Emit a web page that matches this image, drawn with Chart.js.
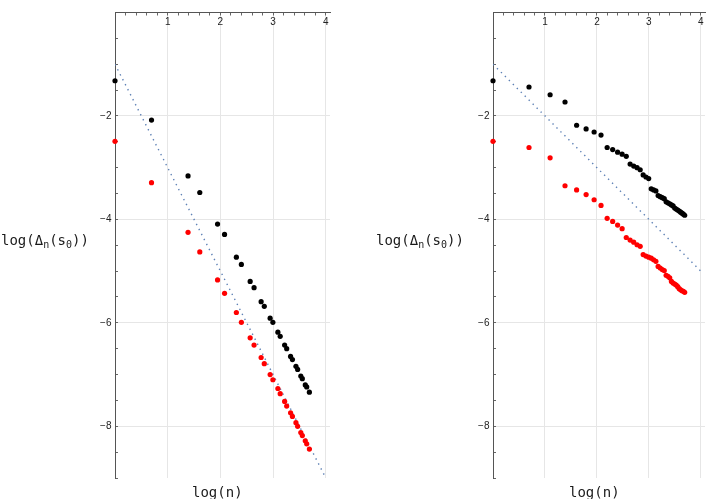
<!DOCTYPE html>
<html>
<head>
<meta charset="utf-8">
<script src="https://cdn.jsdelivr.net/npm/chart.js@4.4.1/dist/chart.umd.min.js"></script>
<style>
  body { margin: 0; background: #fff; }
  #cadre { position: relative; width: 709px; height: 499px; overflow: hidden; }
  canvas { position: absolute; top: 0; }
  .etiquette { position: absolute; font-family: 'DejaVu Sans Mono', monospace; font-size: 14px; line-height: 16px; color: #1a1a1a; white-space: nowrap; }
  .etiquette .ind { font-size: 10px; position: relative; top: 3px; }
</style>
</head>
<body>
<div id="cadre">
  <canvas id="gauche" width="354" height="499" style="left:0"></canvas>
  <canvas id="droite" width="355" height="499" style="left:354px"></canvas>
  <div class="etiquette" style="left:1px;top:232px">log(Δ<span class="ind">n</span>(s<span class="ind">0</span>))</div>
  <div class="etiquette" style="left:376px;top:232px">log(Δ<span class="ind">n</span>(s<span class="ind">0</span>))</div>
  <div class="etiquette" style="left:192px;top:484px">log(n)</div>
  <div class="etiquette" style="left:569px;top:484px">log(n)</div>
</div>
<script>
// abscisses : log(n) pour n = 1..40
const logN = [0, 0.693, 1.099, 1.386, 1.609, 1.792, 1.946, 2.079, 2.197, 2.303,
  2.398, 2.485, 2.565, 2.639, 2.708, 2.773, 2.833, 2.890, 2.944, 2.996,
  3.045, 3.091, 3.135, 3.178, 3.219, 3.258, 3.296, 3.332, 3.367, 3.401,
  3.434, 3.466, 3.497, 3.526, 3.555, 3.584, 3.611, 3.638, 3.664, 3.689];

// abscisses du panneau gauche : n = 1..40 sans les multiples de 3
const logNGauche = [0, 0.693, 1.386, 1.609, 1.946, 2.079, 2.303, 2.398, 2.565, 2.639,
  2.773, 2.833, 2.944, 2.996, 3.091, 3.135, 3.219, 3.258, 3.332, 3.367,
  3.434, 3.466, 3.526, 3.555, 3.611, 3.638, 3.689];

const noirGauche = [-1.32, -2.08, -3.16, -3.48, -4.09, -4.29, -4.73, -4.87, -5.20, -5.32,
  -5.59, -5.68, -5.91, -5.99, -6.18, -6.26, -6.43, -6.50, -6.65, -6.71,
  -6.84, -6.90, -7.03, -7.08, -7.20, -7.24, -7.34];
const rougeGauche = [-2.49, -3.29, -4.25, -4.63, -5.17, -5.43, -5.80, -5.99, -6.29, -6.43,
  -6.67, -6.79, -7.00, -7.10, -7.27, -7.37, -7.52, -7.61, -7.74, -7.81,
  -7.93, -8.00, -8.12, -8.18, -8.28, -8.34, -8.44];

const noirDroite = [-1.32, -1.44, -1.59, -1.73, -2.18, -2.25, -2.31, -2.37, -2.61, -2.65,
  -2.70, -2.74, -2.78, -2.93, -2.97, -3.00, -3.04, -3.14, -3.18, -3.21,
  -3.41, -3.43, -3.45, -3.54, -3.56, -3.58, -3.60, -3.66, -3.68, -3.70,
  -3.72, -3.74, -3.78, -3.80, -3.82, -3.84, -3.86, -3.88, -3.90, -3.92];
const rougeDroite = [-2.49, -2.61, -2.81, -3.35, -3.43, -3.52, -3.62, -3.73, -3.98, -4.04,
  -4.11, -4.18, -4.35, -4.40, -4.44, -4.49, -4.52, -4.68, -4.71, -4.73,
  -4.75, -4.78, -4.81, -4.91, -4.94, -4.97, -4.99, -5.08, -5.10, -5.13,
  -5.20, -5.23, -5.25, -5.27, -5.30, -5.34, -5.36, -5.38, -5.39, -5.41];

// droites de référence en pointillés
const penteGaucheX = [0, 4];
const penteGaucheY = [-1, -9];
const penteDroiteX = [0, 4];
const penteDroiteY = [-1, -5];

const graduationsX = [1, 2, 3, 4];
const graduationsY = [-2, -4, -6, -8];

const arrondi = v => Math.round(v * 1000) / 1000;

function points(xs, ys)
{
  return xs.map((x, i) => ({ x: x, y: ys[i] }));
}

function creerPanneau(id, xs, noir, rouge, penteX, penteY, largeurAxeY, margeDroite)
{
  const canvasElt = document.getElementById(id);

  new Chart(canvasElt, {
    type: 'scatter',
    data: {
      datasets: [
        { data: points(xs, rouge), backgroundColor: '#ff0000', borderWidth: 0, pointRadius: 2.6, clip: false },
        { data: points(xs, noir), backgroundColor: '#000000', borderWidth: 0, pointRadius: 2.6, clip: false },
        {
          type: 'line',
          data: points(penteX, penteY),
          borderColor: '#5e81b5',
          borderWidth: 1.4,
          borderDash: [1.4, 4.2],
          pointRadius: 0,
          fill: false
        }
      ]
    },
    options: {
      responsive: false,
      animation: false,
      devicePixelRatio: 1,
      layout: { padding: { left: 0, right: margeDroite, top: 5, bottom: 21 } },
      plugins: { legend: { display: false }, tooltip: { enabled: false } },
      scales: {
        x: {
          type: 'linear',
          position: 'top',
          min: 0,
          max: 4.08,
          afterFit: function (s) { s.height = 0; },
          border: { color: '#555', width: 1 },
          grid: {
            color: ctx => graduationsX.includes(arrondi(ctx.tick.value)) ? '#e6e6e6' : 'rgba(0,0,0,0)',
            tickColor: '#666',
            tickLength: -3
          },
          ticks: {
            stepSize: 0.2,
            includeBounds: false,
            autoSkip: false,
            maxRotation: 0,
            mirror: true,
            padding: 4,
            color: '#222',
            font: { family: 'Liberation Sans', size: 10 },
            callback: v => graduationsX.includes(arrondi(v)) ? String(arrondi(v)) : ''
          }
        },
        y: {
          type: 'linear',
          position: 'left',
          min: -9,
          max: 0,
          afterFit: function (s) { s.width = largeurAxeY; },
          border: { color: '#555', width: 1 },
          grid: {
            color: ctx => graduationsY.includes(arrondi(ctx.tick.value)) ? '#e6e6e6' : 'rgba(0,0,0,0)',
            tickColor: '#666',
            tickLength: -3
          },
          ticks: {
            stepSize: 0.5,
            autoSkip: false,
            padding: 6.5,
            color: '#222',
            font: { family: 'Liberation Sans', size: 10 },
            callback: v => graduationsY.includes(arrondi(v)) ? '−' + Math.abs(arrondi(v)) : ''
          }
        }
      }
    }
  });
}

creerPanneau('gauche', logNGauche, noirGauche, rougeGauche, penteGaucheX, penteGaucheY, 115, 24);
creerPanneau('droite', logN, noirDroite, rougeDroite, penteDroiteX, penteDroiteY, 139, 1);
</script>
</body>
</html>
